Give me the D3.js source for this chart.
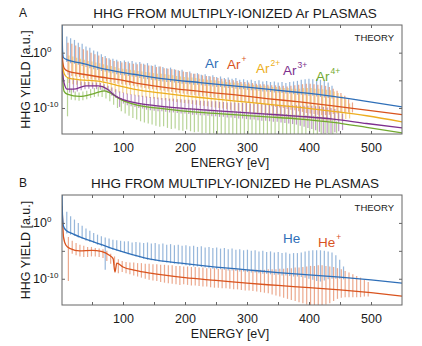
<!DOCTYPE html>
<html>
<head>
<meta charset="utf-8">
<script src="https://cdn.jsdelivr.net/npm/d3@7"></script>
<style>
body { margin: 0; background: #fff; }
text { font-family: "Liberation Sans", Arial, Helvetica, sans-serif; fill: #1a1a1a; }
</style>
</head>
<body>
<svg id="chart" width="422" height="346"></svg>
<script>
// Harmonic energies [eV]
var harmonics = [9.3, 15.5, 21.7, 27.9, 34.1, 40.3, 46.5, 52.7, 58.9, 65.1,
    71.3, 77.5, 83.7, 89.9, 96.1, 102.3, 108.5, 114.7, 120.9, 127.1,
    133.3, 139.5, 145.7, 151.9, 158.1, 164.3, 170.5, 176.7, 182.9, 189.1,
    195.3, 201.5, 207.7, 213.9, 220.1, 226.3, 232.5, 238.7, 244.9, 251.1,
    257.3, 263.5, 269.7, 275.9, 282.1, 288.3, 294.5, 300.7, 306.9, 313.1,
    319.3, 325.5, 331.7, 337.9, 344.1, 350.3, 356.5, 362.7, 368.9, 375.1,
    381.3, 387.5, 393.7, 399.9, 406.1, 412.3, 418.5, 424.7, 430.9, 437.1,
    443.3, 449.5, 455.7, 461.9, 468.1, 474.3, 480.5, 486.7, 492.9, 499.1];

// Panel A, values are log10 of the yield
var arBase = [[1.6, 5], [2.5, 0.4], [4, -0.9], [10, -1.3], [20, -1.6], [36, -2.0], [63, -2.8], [100, -3.6], [117, -3.9],
    [170, -4.8], [224, -5.4], [278, -6.0], [332, -6.6], [385, -7.2], [439, -7.9], [493, -8.8], [550, -9.8]];
var arPeak = [2.9, 2.6, 2.3, 1.8, 1.6, 1.1, 0.9, 0.4, 0.2, -0.3,
    -0.6, -1.0, -1.1, -1.3, -1.5, -1.4, -1.6, -1.5, -1.8, -1.7,
    -2.0, -1.9, -2.3, -2.2, -2.5, -2.6, -2.8, -2.7, -3.0, -3.2,
    -3.1, -3.5, -3.4, -3.8, -3.7, -4.0, -3.9, -4.2, -4.1, -4.4,
    -4.3, -4.6, -4.5, -4.7, -4.6, -4.9, -4.8, -5.0, -4.9, -5.1,
    -5.0, -5.2, -5.1, -5.3, -5.2, -5.4, -5.3, -5.5, -5.3, -5.2,
    -5.1, -4.9, -4.8, -4.7, -4.8, -4.7, -4.9, -5.0, -5.4, -6.0];
var arLow = [-1.7, -1.9, -2.0, -2.2, -2.4, -2.6, -2.8, -3.0, -3.1, -3.3,
    -3.4, -3.6, -3.7, -3.9, -4.0, -4.1, -4.2, -4.3, -4.4, -4.6,
    -4.7, -4.8, -4.9, -5.0, -5.1, -5.2, -5.3, -5.3, -5.4, -5.5,
    -5.6, -5.6, -5.7, -5.8, -5.8, -5.9, -6.0, -6.0, -6.1, -6.2,
    -6.2, -6.3, -6.4, -6.4, -6.5, -6.6, -6.6, -6.7, -6.8, -6.8,
    -6.9, -7.0, -7.0, -7.1, -7.2, -7.2, -7.3, -7.4, -7.4, -7.5,
    -7.6, -7.6, -7.7, -7.8, -7.8, -7.9, -8.0, -8.1, -8.2, -8.3];

var ar1Base = [[1.6, 2], [2.5, -1.2], [5, -2.8], [10, -3.3], [36, -3.9], [63, -4.4], [100, -5.0], [117, -5.4],
    [170, -6.3], [224, -7.0], [278, -7.6], [332, -8.3], [385, -8.9], [439, -9.6], [493, -10.4], [550, -11.2]];
var ar1Peak = [1.8, 1.6, 1.3, 1.0, 0.6, 0.4, 0.0, -0.3, -0.5, -0.8,
    -1.0, -1.3, -1.5, -1.6, -1.8, -1.7, -1.9, -2.0, -2.1, -2.0,
    -2.2, -2.3, -2.4, -2.6, -2.5, -2.8, -2.9, -3.0, -3.1, -3.3,
    -3.4, -3.5, -3.7, -3.8, -3.9, -4.1, -4.2, -4.3, -4.4, -4.6,
    -4.7, -4.8, -4.9, -5.0, -5.1, -5.3, -5.3, -5.4, -5.5, -5.6,
    -5.7, -5.7, -5.8, -5.9, -5.9, -6.0, -6.0, -6.1, -6.0, -5.9,
    -5.8, -5.7, -5.6, -5.6, -5.7, -5.8, -5.9, -6.0, -6.2, -6.5,
    -6.9, -7.3, -7.8, -8.4, -9.0];
var ar1Low = [-4.0, -4.2, -4.3, -4.4, -4.6, -4.7, -4.8, -4.9, -5.0, -5.1,
    -5.2, -5.4, -5.5, -5.6, -5.7, -5.8, -5.9, -6.0, -6.1, -6.3,
    -6.4, -6.5, -6.6, -6.7, -6.8, -6.9, -7.0, -7.1, -7.2, -7.3,
    -7.4, -7.5, -7.6, -7.7, -7.8, -7.9, -7.9, -8.0, -8.1, -8.2,
    -8.3, -8.4, -8.5, -8.6, -8.7, -8.8, -8.9, -9.0, -9.1, -9.2,
    -9.3, -9.4, -9.5, -9.7, -9.8, -9.9, -10.0, -10.2, -10.3, -10.4,
    -10.6, -10.7, -10.9, -11.0, -11.1, -11.2, -11.3, -11.3, -11.2, -11.1,
    -11.0, -10.9, -10.8, -10.8, -10.8];

var ar2Base = [[1.6, 0], [2.5, -2.3], [6, -4.0], [12, -4.6], [30, -4.9], [63, -5.2], [90, -5.9], [117, -6.6],
    [170, -7.4], [224, -8.1], [278, -8.7], [332, -9.3], [385, -9.9], [439, -10.6], [493, -11.4], [550, -12.5]];
var ar2Peak = [-0.5, -0.7, -0.9, -1.1, -1.3, -1.5, -1.6, -1.8, -1.9, -2.1,
    -2.3, -2.4, -2.6, -2.8, -2.9, -3.0, -3.1, -3.2, -3.3, -3.4,
    -3.5, -3.6, -3.7, -3.8, -3.8, -3.9, -4.0, -4.1, -4.2, -4.3,
    -4.4, -4.5, -4.5, -4.6, -4.7, -4.8, -4.9, -5.0, -5.0, -5.1,
    -5.2, -5.3, -5.4, -5.4, -5.5, -5.6, -5.7, -5.7, -5.8, -5.9,
    -6.0, -6.0, -6.1, -6.2, -6.2, -6.3, -6.4, -6.4, -6.5, -6.5,
    -6.5, -6.4, -6.4, -6.4, -6.5, -6.5, -6.6, -6.7, -6.8, -7.0,
    -7.3, -7.8, -8.4, -9.2];
var ar2Low = [-5.5, -5.7, -5.8, -5.9, -6.0, -6.0, -6.1, -6.2, -6.3, -6.4,
    -6.7, -6.9, -7.1, -7.2, -7.3, -7.5, -7.6, -7.7, -7.9, -8.0,
    -8.1, -8.2, -8.3, -8.4, -8.5, -8.6, -8.7, -8.8, -8.9, -9.0,
    -9.1, -9.2, -9.3, -9.4, -9.5, -9.6, -9.7, -9.8, -9.9, -10.0,
    -10.1, -10.2, -10.3, -10.4, -10.5, -10.6, -10.7, -10.8, -10.9, -11.0,
    -11.1, -11.2, -11.3, -11.4, -11.5, -11.6, -11.7, -11.8, -11.9, -12.0,
    -12.1, -12.2, -12.3, -12.3, -12.4, -12.4, -12.5, -12.5, -12.4, -12.3,
    -12.2, -12.1, -12.0, -11.9];

var ar3Base = [[1.6, -1], [2.5, -3.2], [5, -5.5], [10, -6.6], [20, -6.6], [40, -6.0], [60, -6.0], [75, -6.6], [85, -7.6],
    [100, -8.5], [117, -9.0], [170, -9.8], [224, -10.3], [278, -10.7], [332, -11.1], [385, -11.5], [439, -12.0],
    [493, -12.8], [550, -13.6]];
var ar3Peak = [-3.5, -4.6, -5.0, -5.2, -5.3, -5.3, -5.4, -5.4, -5.5, -5.7,
    -6.0, -6.3, -6.6, -7.0, -7.2, -7.4, -7.5, -7.6, -7.7, -7.8,
    -7.9, -8.0, -8.0, -8.1, -8.2, -8.2, -8.3, -8.3, -8.4, -8.4,
    -8.5, -8.5, -8.6, -8.6, -8.7, -8.7, -8.8, -8.8, -8.8, -8.9,
    -8.9, -9.0, -9.0, -9.0, -9.1, -9.1, -9.1, -9.2, -9.2, -9.2,
    -9.3, -9.3, -9.3, -9.4, -9.4, -9.4, -9.5, -9.5, -9.5, -9.5,
    -9.6, -9.6, -9.6, -9.6, -9.7, -9.7, -9.8, -9.9, -10.0, -10.2,
    -10.5, -11.0];
var ar3Low = [-7.2, -7.2, -7.0, -6.8, -6.6, -6.5, -6.5, -6.6, -6.7, -7.0,
    -7.3, -7.8, -8.2, -9.8, -9.2, -9.5, -9.7, -9.8, -10.0, -10.1,
    -10.3, -10.4, -10.5, -10.6, -10.6, -10.7, -10.8, -10.8, -10.9, -11.0,
    -11.0, -11.1, -11.2, -11.2, -11.3, -11.3, -11.4, -11.5, -11.5, -11.6,
    -11.6, -11.7, -11.7, -11.8, -11.9, -11.9, -12.0, -12.1, -12.1, -12.2,
    -12.3, -12.3, -12.4, -12.5, -12.5, -12.6, -12.7, -12.8, -12.9, -13.0,
    -13.2, -13.4, -13.6, -13.8, -14.0, -14.3, -14.6, -14.5, -14.6, -14.4,
    -14.2, -14.0];

var ar4Base = [[1.6, -2], [2.5, -4.3], [5, -7.0], [10, -7.5], [30, -7.9], [50, -7.5], [70, -6.9], [80, -7.3], [95, -8.4],
    [117, -9.3], [170, -10.2], [224, -10.8], [278, -11.2], [332, -11.6], [385, -12.0], [439, -12.6], [493, -13.5], [550, -14.5]];
var ar4Peak = [-4.5, -6.5, -7.0, -7.2, -7.0, -6.9, -6.6, -6.4, -6.2, -6.1,
    -6.3, -6.6, -7.2, -7.8, -8.2, -8.5, -8.7, -8.9, -9.0, -9.1,
    -9.2, -9.3, -9.4, -9.5, -9.6, -9.6, -9.7, -9.8, -9.8, -9.9,
    -9.9, -10.0, -10.0, -10.1, -10.1, -10.2, -10.2, -10.3, -10.3, -10.4,
    -10.4, -10.5, -10.5, -10.5, -10.6, -10.6, -10.7, -10.7, -10.8, -10.8,
    -10.8, -10.9, -10.9, -11.0, -11.0, -11.0, -11.1, -11.1, -11.2, -11.2,
    -11.2, -11.3, -11.3, -11.4, -11.4, -11.5, -11.6, -11.7, -11.9, -12.1,
    -12.4];
var ar4Low = [-11.5, -8.5, -8.6, -8.7, -8.6, -8.4, -8.2, -8.0, -7.9, -8.0,
    -8.3, -8.8, -9.4, -10.0, -10.6, -11.0, -11.4, -11.8, -12.1, -12.4,
    -12.6, -12.8, -13.0, -13.2, -13.4, -13.3, -13.6, -13.8, -13.7, -14.0,
    -14.1, -13.9, -14.2, -14.4, -14.3, -14.6, -14.5, -14.7, -14.6, -14.7,
    -14.7, -14.7, -14.7, -14.7, -14.7, -14.7, -14.7, -14.7, -14.7, -14.7,
    -14.7, -14.7, -14.7, -14.7, -14.7, -14.7, -14.7, -14.7, -14.7, -14.7,
    -14.7, -14.7, -14.7, -14.7, -14.7, -14.7, -14.7, -14.7, -14.7, -14.7,
    -14.5];

// Panel B
var heBase = [[1.6, 5], [2.5, 1.0], [4, -0.6], [8, -1.3], [20, -2.0], [40, -2.9], [63, -3.8], [100, -5.2], [144, -6.5],
    [200, -7.3], [250, -7.9], [300, -8.4], [350, -8.9], [400, -9.3], [450, -9.7], [500, -10.2], [550, -10.8]];
var hePeak = [2.0, 1.2, 0.6, 0.0, -0.5, -1.0, -1.4, -1.8, -2.1, -2.4,
    -2.6, -2.8, -3.0, -3.1, -3.2, -3.3, -3.3, -3.5, -3.4, -3.5,
    -3.6, -3.5, -3.7, -3.6, -3.8, -3.7, -3.9, -3.8, -4.0, -3.9,
    -4.1, -4.0, -4.2, -4.1, -4.3, -4.2, -4.4, -4.3, -4.5, -4.4,
    -4.6, -4.5, -4.7, -4.6, -4.8, -4.7, -4.9, -4.8, -5.0, -4.9,
    -5.1, -5.0, -5.2, -5.1, -5.3, -5.2, -5.4, -5.3, -5.5, -5.4,
    -5.4, -5.3, -5.1, -5.0, -4.9, -4.9, -4.9, -5.0, -5.1, -5.3,
    -5.8, -6.6, -7.8];
var heLow = [-1.9, -2.1, -2.3, -2.6, -2.9, -3.2, -3.4, -3.6, -3.9, -4.2,
    -8.4, -4.6, -4.8, -5.0, -5.2, -5.4, -5.6, -5.8, -6.0, -6.2,
    -6.4, -6.6, -6.7, -6.8, -6.9, -7.0, -7.1, -7.2, -7.3, -7.4,
    -7.5, -7.6, -7.7, -7.8, -7.8, -7.9, -8.0, -8.1, -8.2, -8.3,
    -8.3, -8.4, -8.5, -8.5, -8.6, -8.7, -8.7, -8.8, -8.9, -8.9,
    -9.0, -9.1, -9.1, -9.2, -9.3, -9.3, -9.4, -9.4, -9.5, -9.6,
    -9.6, -9.7, -9.8, -10.0, -10.2, -10.4, -10.5, -10.3, -10.1, -10.0,
    -10.0, -10.0, -10.1];

var he1Base = [[1.6, 3], [2.5, 0.8], [4, -2.5], [8, -4.0], [15, -4.6], [30, -5.0], [50, -4.9], [65, -5.1], [78, -5.8],
    [84, -6.4], [87, -8.8], [90, -7.2], [100, -7.9], [120, -8.5], [144, -9.0], [200, -9.8], [250, -10.3],
    [300, -10.8], [350, -11.2], [400, -11.6], [450, -12.0], [500, -12.5], [550, -13.1]];
var he1Peak = [-2.5, -3.2, -3.6, -3.9, -4.1, -4.3, -4.3, -4.5, -4.6, -4.7,
    -5.0, -5.5, -6.0, -6.5, -6.8, -7.0, -7.1, -7.1, -7.2, -7.2,
    -7.3, -7.3, -7.4, -7.4, -7.5, -7.5, -7.6, -7.6, -7.7, -7.7,
    -7.8, -7.8, -7.9, -7.9, -8.0, -8.0, -8.1, -8.1, -8.1, -8.2,
    -8.2, -8.2, -8.3, -8.3, -8.3, -8.4, -8.4, -8.4, -8.4, -8.4,
    -8.4, -8.4, -8.3, -8.3, -8.3, -8.2, -8.2, -8.1, -8.1, -8.0,
    -8.0, -7.9, -7.8, -7.7, -7.7, -7.6, -7.6, -7.7, -7.8, -7.9,
    -8.1, -8.3, -8.6, -8.9, -9.2, -9.5, -9.8, -10.2, -10.6];
var he1Low = [-10.4, -5.5, -5.8, -6.0, -6.1, -6.1, -6.0, -6.0, -6.1, -6.3,
    -6.8, -7.3, -7.6, -9.0, -8.8, -9.0, -9.2, -9.4, -9.6, -9.8,
    -10.0, -10.2, -10.3, -10.4, -10.6, -10.7, -10.8, -10.9, -11.0, -11.1,
    -11.0, -11.1, -11.2, -11.2, -11.3, -11.4, -11.4, -11.5, -11.6, -11.6,
    -11.7, -11.7, -11.8, -11.9, -11.9, -12.0, -12.1, -12.1, -12.2, -12.3,
    -12.4, -12.5, -12.6, -12.8, -13.0, -13.2, -13.4, -13.6, -13.8, -14.0,
    -14.2, -14.4, -14.6, -14.7, -14.7, -14.7, -14.7, -14.6, -14.4, -14.0,
    -13.6, -13.4, -13.3, -13.3, -13.3, -13.3, -13.3, -13.2, -13.2];

var xTicks = [50, 100, 150, 200, 250, 300, 350, 400, 450, 500];
var yTicks = [1, 1e-5, 1e-10];
var yLabels = [[1, '0'], [1e-10, '-10']];

var colors = {
    blue: '#2f6fb8',
    red: '#d9531e',
    yellow: '#edae20',
    purple: '#7e2f8e',
    green: '#72a92f'
};

var panels = [
    {
        letter: 'A', title: 'HHG FROM MULTIPLY-IONIZED Ar PLASMAS', top: 25, bottom: 134,
        series: [
            {base: arBase, peak: arPeak, low: arLow, color: colors.blue, shift: 0},
            {base: ar1Base, peak: ar1Peak, low: ar1Low, color: colors.red, shift: 2.0},
            {base: ar2Base, peak: ar2Peak, low: ar2Low, color: colors.yellow, shift: 3.6},
            {base: ar4Base, peak: ar4Peak, low: ar4Low, color: colors.green, shift: 1.2},
            {base: ar3Base, peak: ar3Peak, low: ar3Low, color: colors.purple, shift: 4.6}
        ],
        lineOrder: [3, 4, 2, 1, 0],
        legend: [
            {x: 205, y: 68, t: 'Ar', sup: '', color: colors.blue},
            {x: 227, y: 69, t: 'Ar', sup: '+', color: colors.red},
            {x: 256, y: 72.5, t: 'Ar', sup: '2+', color: colors.yellow},
            {x: 283, y: 75, t: 'Ar', sup: '3+', color: colors.purple},
            {x: 316, y: 81, t: 'Ar', sup: '4+', color: colors.green}
        ]
    },
    {
        letter: 'B', title: 'HHG FROM MULTIPLY-IONIZED He PLASMAS', top: 195, bottom: 305,
        series: [
            {base: he1Base, peak: he1Peak, low: he1Low, color: colors.red, shift: 2.6},
            {base: heBase, peak: hePeak, low: heLow, color: colors.blue, shift: 0}
        ],
        lineOrder: [0, 1],
        legend: [
            {x: 283, y: 243, t: 'He', sup: '', color: colors.blue},
            {x: 318, y: 247, t: 'He', sup: '+', color: colors.red}
        ]
    }
];

var svg = d3.select('#chart');
var left = 62, right = 402;

var xScale = d3.scaleLinear()
    .domain([1.6, 550])
    .range([left, right]);

panels.forEach(function(p, pi) {
    var yScale = d3.scaleLog()
        .domain([Math.pow(10, -14.7), Math.pow(10, 5)])
        .range([p.bottom, p.top]);

    var g = svg.append('g');

    g.append('clipPath')
        .attr('id', 'clip' + pi)
        .append('rect')
        .attr('x', left)
        .attr('y', p.top)
        .attr('width', right - left)
        .attr('height', p.bottom - p.top);

    var plot = g.append('g').attr('clip-path', 'url(#clip' + pi + ')');

    // Harmonic spikes
    p.series.forEach(function(s) {
        var spikes = [];
        s.peak.forEach(function(v, i) {
            spikes.push({e: harmonics[i] + s.shift, hi: v, lo: s.low[i]});
        });
        plot.append('g')
            .selectAll('line')
            .data(spikes)
            .enter()
            .append('line')
            .attr('x1', (d) => xScale(d.e))
            .attr('x2', (d) => xScale(d.e))
            .attr('y1', (d) => yScale(Math.pow(10, d.lo)))
            .attr('y2', (d) => yScale(Math.pow(10, d.hi)))
            .attr('stroke', s.color)
            .attr('stroke-opacity', 0.5)
            .attr('stroke-width', 1.2);
    });

    // Continuum lines
    var line = d3.line()
        .x((d) => xScale(d[0]))
        .y((d) => yScale(Math.pow(10, d[1])))
        .curve(d3.curveMonotoneX);

    p.lineOrder.forEach(function(i) {
        var s = p.series[i];
        plot.append('path')
            .datum(s.base)
            .attr('d', line)
            .attr('fill', 'none')
            .attr('stroke', s.color)
            .attr('stroke-width', 1.3);
    });

    // Axes with inward ticks
    var bottomAxis = d3.axisBottom(xScale)
        .tickValues(xTicks)
        .tickSizeInner(-3)
        .tickSizeOuter(0)
        .tickPadding(9)
        .tickFormat((d) => d % 100 === 0 ? d : '');
    var topAxis = d3.axisTop(xScale).tickValues(xTicks).tickSizeInner(-3).tickSizeOuter(0).tickFormat('');
    var leftAxis = d3.axisLeft(yScale).tickValues(yTicks).tickSizeInner(-3).tickSizeOuter(0).tickFormat('');
    var rightAxis = d3.axisRight(yScale).tickValues(yTicks).tickSizeInner(-3).tickSizeOuter(0).tickFormat('');

    var axes = [
        g.append('g').attr('transform', `translate(0, ${p.bottom})`).call(bottomAxis),
        g.append('g').attr('transform', `translate(0, ${p.top})`).call(topAxis),
        g.append('g').attr('transform', `translate(${left}, 0)`).call(leftAxis),
        g.append('g').attr('transform', `translate(${right}, 0)`).call(rightAxis)
    ];
    axes.forEach(function(a) {
        a.select('.domain').remove();
        a.selectAll('line').attr('stroke', '#666');
        a.selectAll('text')
            .style('font-family', '"Liberation Sans", Arial, sans-serif')
            .style('font-size', '12.5px')
            .attr('fill', '#1a1a1a');
    });

    g.append('rect')
        .attr('x', left)
        .attr('y', p.top)
        .attr('width', right - left)
        .attr('height', p.bottom - p.top)
        .attr('fill', 'none')
        .attr('stroke', '#666')
        .attr('stroke-width', 1);

    // Y tick labels with exponents
    yLabels.forEach(function(l) {
        var t = g.append('text')
            .attr('x', 33)
            .attr('y', yScale(l[0]) + 4.5)
            .style('font-size', '12.5px');
        t.append('tspan').text('10');
        t.append('tspan').attr('dy', -5.5).style('font-size', '8px').text(l[1]);
    });

    // Titles and labels
    g.append('text')
        .attr('x', 19)
        .attr('y', p.top - 8)
        .style('font-size', '12px')
        .text(p.letter);

    g.append('text')
        .attr('x', 235)
        .attr('y', p.top - 7)
        .attr('text-anchor', 'middle')
        .style('font-size', '13.5px')
        .text(p.title);

    g.append('text')
        .attr('transform', 'rotate(-90)')
        .attr('x', -(p.top + p.bottom) / 2)
        .attr('y', 30)
        .attr('text-anchor', 'middle')
        .style('font-size', '12.5px')
        .text('HHG YIELD [a.u.]');

    g.append('text')
        .attr('x', 230)
        .attr('y', p.bottom + 33)
        .attr('text-anchor', 'middle')
        .style('font-size', '12.5px')
        .text('ENERGY [eV]');

    g.append('text')
        .attr('x', 394)
        .attr('y', p.top + 16)
        .attr('text-anchor', 'end')
        .style('font-size', '9.5px')
        .text('THEORY');

    // Species labels
    p.legend.forEach(function(l) {
        var t = g.append('text')
            .attr('x', l.x)
            .attr('y', l.y)
            .style('font-size', '13.5px')
            .style('fill', l.color);
        t.append('tspan').text(l.t);
        if (l.sup) {
            t.append('tspan')
                .attr('dx', 1)
                .attr('dy', -7)
                .style('font-size', '8.5px')
                .text(l.sup);
        }
    });
});
</script>
</body>
</html>
